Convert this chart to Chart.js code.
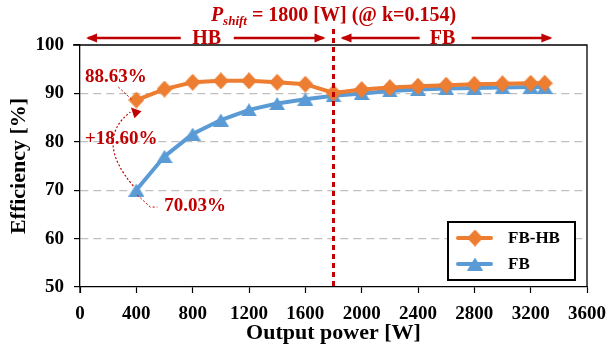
<!DOCTYPE html>
<html>
<head>
<meta charset="utf-8">
<script src="https://cdn.jsdelivr.net/npm/chart.js@4.4.0/dist/chart.umd.min.js"></script>
<style>
  html, body { margin: 0; padding: 0; background: #fff; }
  #wrap { width: 610px; height: 352px; position: relative; }
</style>
</head>
<body>
<div id="wrap"><canvas id="effChart" width="610" height="352"></canvas></div>
<script>
// output power points [W]
const powerW = [400, 600, 800, 1000, 1200, 1400, 1600, 1800, 2000, 2200, 2400, 2600, 2800, 3000, 3200, 3300];
// efficiency [%]
const effFBHB = [88.63, 90.9, 92.3, 92.6, 92.6, 92.3, 91.9, 90.1, 90.8, 91.2, 91.5, 91.7, 91.9, 92.0, 92.1, 92.1];
const effFB = [70.03, 77.0, 81.6, 84.5, 86.6, 87.9, 88.8, 89.5, 90.0, 90.5, 90.8, 91.0, 91.1, 91.2, 91.3, 91.3];
const seriesNames = ['FB-HB', 'FB'];
const pShift = 1800;

const RED = '#C00000';
const ORANGE = '#ED7D31';
const BLUE = '#5B9BD5';
const SERIF = "'Liberation Serif', 'Times New Roman', serif";

Chart.defaults.font.family = SERIF;
Chart.defaults.font.weight = 'bold';
Chart.defaults.color = '#000';

function toPoints(xs, ys) {
  return xs.map((x, i) => ({ x: x, y: ys[i] }));
}

// flat triangle / tall diamond markers like the office chart ones
function makeTriangle(w, h, color) {
  const c = document.createElement('canvas');
  c.width = w;
  c.height = h;
  const g = c.getContext('2d');
  g.fillStyle = color;
  g.beginPath();
  g.moveTo(w / 2, 0);
  g.lineTo(w, h);
  g.lineTo(0, h);
  g.closePath();
  g.fill();
  return c;
}
function makeDiamond(w, h, color) {
  const c = document.createElement('canvas');
  c.width = w;
  c.height = h;
  const g = c.getContext('2d');
  g.fillStyle = color;
  g.beginPath();
  g.moveTo(w / 2, 0);
  g.lineTo(w, h / 2);
  g.lineTo(w / 2, h);
  g.lineTo(0, h / 2);
  g.closePath();
  g.fill();
  return c;
}
const triMarker = makeTriangle(16, 13, BLUE);
const diaMarker = makeDiamond(16, 17, ORANGE);

function arrowHead(ctx, x, y, dir, len, half) {
  ctx.beginPath();
  ctx.moveTo(x, y);
  ctx.lineTo(x - dir * len, y - half);
  ctx.lineTo(x - dir * len, y + half);
  ctx.closePath();
  ctx.fill();
}

function hArrow(ctx, x1, x2, y, dir) {
  ctx.beginPath();
  ctx.moveTo(x1, y);
  ctx.lineTo(x2, y);
  ctx.stroke();
  if (dir > 0) arrowHead(ctx, x2 + 2, y, 1, 11, 4.5);
  else arrowHead(ctx, x1 - 2, y, -1, 11, 4.5);
}

// box, shift line, region arrows, annotations, legend
const extras = {
  id: 'extras',
  afterDatasetsDraw(chart) {
    const ctx = chart.ctx;
    const area = chart.chartArea;
    const xs = chart.scales.x;
    const ys = chart.scales.y;

    ctx.save();
    // frame on top and right, y axis runs a bit below x axis
    ctx.strokeStyle = '#000';
    ctx.lineWidth = 1.3;
    ctx.beginPath();
    ctx.moveTo(area.left - 7, area.top);
    ctx.lineTo(area.right, area.top);
    ctx.lineTo(area.right, area.bottom);
    ctx.moveTo(area.left, area.bottom);
    ctx.lineTo(area.left, area.bottom + 6);
    ctx.stroke();

    // P_shift dashed line
    const xs1800 = xs.getPixelForValue(pShift);
    ctx.strokeStyle = RED;
    ctx.lineWidth = 3;
    ctx.setLineDash([5, 4]);
    ctx.beginPath();
    ctx.moveTo(xs1800, 29);
    ctx.lineTo(xs1800, area.bottom + 3);
    ctx.stroke();
    ctx.setLineDash([]);

    // title
    ctx.fillStyle = RED;
    ctx.textBaseline = 'alphabetic';
    const mainTxt = ' = 1800 [W] (@ k=0.154)';
    ctx.font = 'italic bold 20px ' + SERIF;
    const wP = ctx.measureText('P').width;
    ctx.font = 'italic bold 13px ' + SERIF;
    const wSub = ctx.measureText('shift').width;
    ctx.font = 'bold 20px ' + SERIF;
    const wMain = ctx.measureText(mainTxt).width;
    let tx = xs1800 - (wP + wSub + wMain) / 2;
    const ty = 21;
    ctx.font = 'italic bold 20px ' + SERIF;
    ctx.fillText('P', tx, ty);
    tx += wP;
    ctx.font = 'italic bold 13px ' + SERIF;
    ctx.fillText('shift', tx, ty + 4);
    tx += wSub;
    ctx.font = 'bold 20px ' + SERIF;
    ctx.fillText(mainTxt, tx, ty);

    // HB / FB region arrows
    const ay = 38;
    ctx.strokeStyle = RED;
    ctx.lineWidth = 2.5;
    ctx.font = 'bold 20px ' + SERIF;
    ctx.textAlign = 'center';
    ctx.textBaseline = 'middle';
    const hbL = xs.getPixelForValue(0) + 8;
    const hbR = xs1800 - 10;
    const hbC = xs.getPixelForValue(pShift / 2);
    ctx.fillText('HB', hbC, ay + 1);
    hArrow(ctx, hbL, hbC - 26, ay, -1);
    hArrow(ctx, hbC + 27, hbR, ay, 1);
    const fbL = xs1800 + 9;
    const fbR = xs.getPixelForValue(3340);
    const fbC = xs.getPixelForValue(2575);
    ctx.fillText('FB', fbC, ay + 1);
    hArrow(ctx, fbL, fbC - 23, ay, -1);
    hArrow(ctx, fbC + 29, fbR, ay, 1);

    // annotations at 400 W
    const px = xs.getPixelForValue(powerW[0]);
    const pyHi = ys.getPixelForValue(effFBHB[0]);
    const pyLo = ys.getPixelForValue(effFB[0]);
    ctx.font = 'bold 19px ' + SERIF;
    ctx.textAlign = 'left';
    ctx.fillText(effFBHB[0].toFixed(2) + '%', 85, pyHi - 23);
    ctx.fillText('+' + (effFBHB[0] - effFB[0]).toFixed(2) + '%', 85, pyHi + 39);
    ctx.fillText(effFB[0].toFixed(2) + '%', px + 28, pyLo + 16);

    ctx.lineWidth = 1;
    ctx.setLineDash([2, 2]);
    ctx.beginPath();
    ctx.moveTo(px - 18, pyHi - 13);
    ctx.lineTo(px - 4, pyHi);
    ctx.moveTo(px + 1, pyLo + 5);
    ctx.lineTo(px + 14, pyLo + 17);
    ctx.lineTo(px + 21, pyLo + 17);
    ctx.stroke();

    // curved gain arrow
    ctx.lineWidth = 1.2;
    ctx.beginPath();
    ctx.moveTo(px - 3, pyLo - 4);
    ctx.quadraticCurveTo(px - 42, pyLo - 50, px - 6, pyHi + 12);
    ctx.stroke();
    ctx.setLineDash([]);
    ctx.save();
    ctx.translate(px - 4, pyHi + 9);
    ctx.rotate(-Math.PI / 4);
    ctx.beginPath();
    ctx.moveTo(0, -2);
    ctx.lineTo(-5, 8);
    ctx.lineTo(5, 8);
    ctx.closePath();
    ctx.fill();
    ctx.restore();

    // legend
    const lx = area.right - 139;
    const ly = area.bottom - 65;
    const lw = 127;
    const lh = 58;
    ctx.fillStyle = '#fff';
    ctx.fillRect(lx, ly, lw, lh);
    ctx.strokeStyle = '#000';
    ctx.lineWidth = 2;
    ctx.strokeRect(lx, ly, lw, lh);
    chart.data.datasets.forEach((ds, i) => {
      const rowY = ly + 16 + i * 26;
      ctx.strokeStyle = ds.borderColor;
      ctx.lineWidth = 4;
      ctx.lineCap = 'round';
      ctx.beginPath();
      ctx.moveTo(lx + 10, rowY);
      ctx.lineTo(lx + 43, rowY);
      ctx.stroke();
      ctx.lineCap = 'butt';
      Chart.helpers.drawPoint(ctx, {
        pointStyle: ds.pointStyle,
        radius: ds.pointRadius,
        rotation: 0,
        borderWidth: 0
      }, lx + 27, rowY);
      ctx.fillStyle = '#000';
      ctx.font = 'bold 17px ' + SERIF;
      ctx.textAlign = 'left';
      ctx.textBaseline = 'middle';
      ctx.fillText(ds.label, lx + 60, rowY + 1);
    });
    ctx.restore();
  }
};

new Chart(document.getElementById('effChart').getContext('2d'), {
  type: 'line',
  data: {
    datasets: [
      {
        label: seriesNames[0],
        data: toPoints(powerW, effFBHB),
        borderColor: ORANGE,
        backgroundColor: ORANGE,
        borderWidth: 4,
        pointStyle: diaMarker,
        pointRadius: 8,
        tension: 0
      },
      {
        label: seriesNames[1],
        data: toPoints(powerW, effFB),
        borderColor: BLUE,
        backgroundColor: BLUE,
        borderWidth: 4,
        pointStyle: triMarker,
        pointRadius: 8,
        tension: 0
      }
    ]
  },
  options: {
    responsive: false,
    animation: false,
    layout: { padding: { top: 45, right: 23, left: 0, bottom: 0 } },
    plugins: {
      legend: { display: false },
      tooltip: { enabled: false }
    },
    scales: {
      x: {
        type: 'linear',
        min: 0,
        max: 3600,
        afterFit: (s) => { s.height = 65; s.paddingRight = 18; },
        ticks: { stepSize: 400, font: { size: 19 }, padding: 10, maxRotation: 0, callback: (v) => String(v) },
        grid: { display: true, drawOnChartArea: false, tickLength: 6, tickColor: '#000', tickWidth: 1.2 },
        border: { color: '#000', width: 1.3 },
        title: { display: true, text: 'Output power [W]', font: { size: 22 }, padding: { top: 0, bottom: 5 } }
      },
      y: {
        min: 50,
        max: 100,
        afterFit: (s) => { s.width = 80; },
        ticks: { stepSize: 10, font: { size: 19 }, padding: 10, callback: (v) => String(v) },
        grid: {
          color: (c) => (c.tick.value > 50 && c.tick.value < 100 ? '#BFBFBF' : 'rgba(0,0,0,0)'),
          lineWidth: 1.2,
          tickLength: 6,
          tickColor: '#000',
          tickWidth: 1.2,
          tickBorderDash: []
        },
        border: { color: '#000', width: 1.3, dash: [8, 5] },
        title: { display: true, text: 'Efficiency [%]', font: { size: 22 }, padding: { top: 6, bottom: 0 } }
      }
    }
  },
  plugins: [extras]
});
</script>
</body>
</html>
